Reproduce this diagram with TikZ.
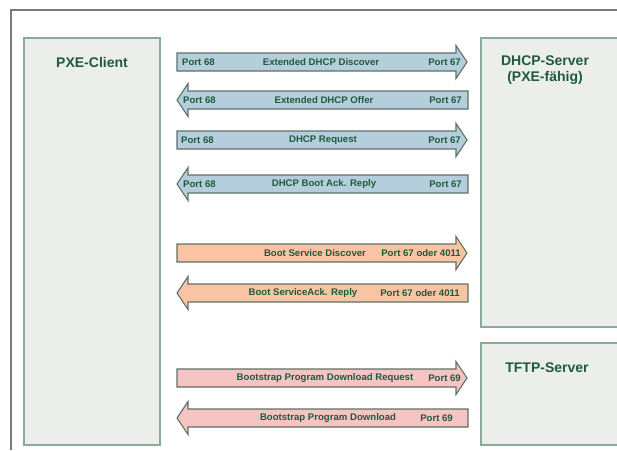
\documentclass[tikz,border=0pt]{standalone}
\usepackage{fontspec}
\setmainfont{Liberation Sans}
\definecolor{frame}{HTML}{7A7A7A}
\definecolor{boxfill}{HTML}{ECEEEC}
\definecolor{boxline}{HTML}{8AAA9A}
\definecolor{txt}{HTML}{1E5A3C}
\definecolor{arrline}{HTML}{5E7166}
\definecolor{blue}{HTML}{B5CEDC}
\definecolor{orange}{HTML}{F8C4A4}
\definecolor{pink}{HTML}{F5C4C3}
\newcommand\myRA[2]{\filldraw[arrowbody,fill=#2] (177,#1-9) -- (456,#1-9) -- (456,#1-16.5) -- (467,#1) -- (456,#1+16.5) -- (456,#1+9) -- (177,#1+9) -- cycle;}
\newcommand\myLA[2]{\filldraw[arrowbody,fill=#2] (468,#1-9) -- (188,#1-9) -- (188,#1-16.5) -- (177,#1) -- (188,#1+16.5) -- (188,#1+9) -- (468,#1+9) -- cycle;}
\tikzset{
  box/.style={draw=boxline,fill=boxfill,line width=1.2pt},
  title/.style={text=txt,font=\fontsize{14}{16}\selectfont\bfseries,align=center},
  lbl/.style={text=txt,font=\fontsize{9.6}{10}\selectfont\bfseries,inner sep=0pt},
  arrowbody/.style={draw=arrline,line width=1.1pt,line join=miter},
}
\begin{document}
\begin{tikzpicture}[x=1pt,y=-1pt]
\useasboundingbox (0,0) rectangle (617,450);
\fill[white] (0,0) rectangle (617,450);
\draw[frame,line width=1.3pt] (11,450) -- (11,10) -- (617,10);
% boxes
\draw[box] (24,38) rectangle (160,445);
\draw[box] (481,38) rectangle (625,327);
\draw[box] (481,343) rectangle (625,445);
\node[title] (client) at (92,62) {PXE-Client};
\node[title] (dhcp) at (545,70) {DHCP-Server\\(PXE-fähig)};
\node[title] (tftp) at (547,368) {TFTP-Server};
% arrows
\myRA{62}{blue}
\myLA{100}{blue}
\myRA{140}{blue}
\myLA{184}{blue}
\myRA{253}{orange}
\myLA{293}{orange}
\myRA{378}{pink}
\myLA{418}{pink}
% labels
\node[lbl,anchor=west] (a1l) at (182,62) {Port 68};
\node[lbl] (a1c) at (321,62) {Extended DHCP Discover};
\node[lbl,anchor=east] (a1r) at (461,62) {Port 67};
\node[lbl,anchor=west] (a2l) at (183,100) {Port 68};
\node[lbl] (a2c) at (324,100) {Extended DHCP Offer};
\node[lbl,anchor=east] (a2r) at (462,100) {Port 67};
\node[lbl,anchor=west] (a3l) at (181,140) {Port 68};
\node[lbl] (a3c) at (323,140) {DHCP Request};
\node[lbl,anchor=east] (a3r) at (461,140) {Port 67};
\node[lbl,anchor=west] (a4l) at (183,184) {Port 68};
\node[lbl] (a4c) at (324,184) {DHCP Boot Ack. Reply};
\node[lbl,anchor=east] (a4r) at (462,184) {Port 67};
\node[lbl] (a5c) at (315,253) {Boot Service Discover};
\node[lbl,anchor=east] (a5r) at (461,253) {Port 67 oder 4011};
\node[lbl] (a6c) at (303,293) {Boot ServiceAck. Reply};
\node[lbl,anchor=east] (a6r) at (460,293) {Port 67 oder 4011};
\node[lbl] (a7c) at (325,378) {Bootstrap Program Download Request};
\node[lbl,anchor=east] (a7r) at (461,378) {Port 69};
\node[lbl] (a8c) at (328,418) {Bootstrap Program Download};
\node[lbl,anchor=east] (a8r) at (453,418) {Port 69};
\end{tikzpicture}
\end{document}
